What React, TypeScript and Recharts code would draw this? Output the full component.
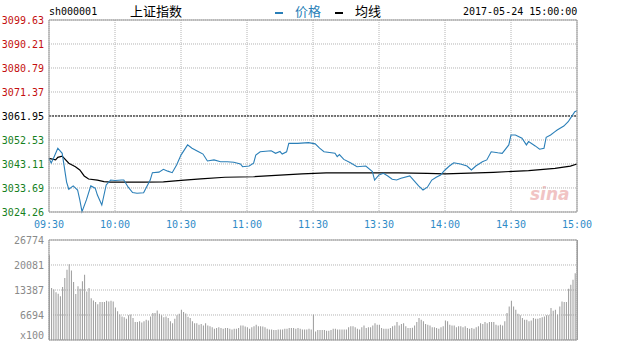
import React from 'react';
import { LineChart, Line, BarChart, Bar, XAxis, YAxis, CartesianGrid, ReferenceLine } from 'recharts';

// minute index from 09:30 (0) to 15:00 (240), lunch break folded at 11:30/13:00 (120)
const priceMinutes = [0, 1, 2, 4, 6, 8, 9, 11, 13, 14, 15, 17, 19, 21, 22, 24, 26, 28, 30, 33, 34, 36, 38, 40, 43, 46, 47, 50, 52, 54, 56, 58, 60, 63, 65, 68, 70, 72, 75, 78, 81, 84, 87, 88, 91, 93, 94, 96, 101, 103, 105, 106, 108, 109, 113, 118, 121, 123, 125, 130, 131, 132, 134, 137, 140, 144, 147, 148, 150, 152, 154, 156, 158, 160, 164, 165, 168, 170, 172, 174, 176, 178, 180, 182, 184, 187, 190, 192, 194, 197, 199, 201, 204, 206, 209, 210, 212, 215, 217, 218, 221, 223, 225, 226, 228, 230, 231, 234, 236, 237, 239, 240];
const priceValues = [3045.3, 3043.5, 3045.3, 3049.3, 3047.3, 3036.0, 3033.2, 3034.5, 3032.9, 3029.0, 3024.4, 3029.0, 3034.5, 3033.6, 3030.9, 3027.0, 3034.9, 3036.8, 3036.6, 3036.8, 3036.8, 3034.0, 3031.9, 3031.6, 3031.8, 3036.8, 3039.7, 3039.9, 3041.0, 3040.3, 3039.7, 3042.7, 3046.6, 3050.6, 3049.3, 3047.9, 3047.0, 3044.3, 3044.7, 3044.0, 3044.0, 3043.8, 3043.1, 3042.05, 3042.3, 3043.4, 3046.6, 3047.9, 3048.3, 3047.3, 3048.0, 3047.0, 3047.9, 3051.2, 3051.2, 3051.5, 3051.0, 3049.3, 3047.9, 3047.3, 3046.0, 3046.8, 3044.9, 3043.6, 3042.05, 3042.3, 3040.1, 3036.8, 3038.8, 3039.45, 3038.4, 3037.1, 3036.8, 3037.5, 3038.4, 3037.5, 3034.5, 3032.9, 3034.0, 3036.8, 3037.9, 3038.8, 3040.75, 3042.3, 3043.6, 3043.1, 3042.3, 3040.75, 3042.3, 3044.0, 3044.7, 3047.9, 3047.5, 3047.3, 3050.6, 3054.5, 3054.5, 3053.2, 3050.6, 3051.9, 3050.2, 3048.9, 3049.3, 3053.6, 3054.5, 3055.8, 3056.45, 3058.0, 3059.7, 3061.0, 3063.6, 3064.0];

const avgMinutes = [0, 3, 4, 6, 9, 12, 14, 16, 18, 22, 25, 28, 43, 52, 60, 69, 80, 93, 105, 115, 126, 159, 172, 180, 202, 218, 230, 237, 240];
const avgValues = [3045.3, 3044.7, 3045.7, 3046.2, 3043.4, 3042.05, 3040.75, 3038.4, 3037.2, 3036.8, 3036.2, 3036.0, 3036.0, 3036.1, 3036.7, 3037.3, 3037.9, 3038.1, 3038.7, 3039.2, 3039.6, 3039.6, 3039.45, 3039.2, 3039.85, 3040.5, 3041.4, 3042.3, 3043.1];

// volume per minute (x100)
const volumes = [
  22700, 13900, 13500, 12800, 12400, 11700, 14200, 16600, 18800, 20300,
  18600, 15500, 12300, 14400, 13700, 15700, 17500, 13000, 13900, 11200,
  10600, 10200, 9600, 10200, 10200, 10200, 10500, 10300, 10500, 10300,
  8700, 7700, 6800, 6300, 6100, 5700, 6600, 6800, 5900, 4800,
  4800, 5000, 4700, 5000, 5400, 5200, 6300, 7200, 7200, 7900,
  7000, 6600, 6100, 6300, 5900, 5000, 4500, 5700, 6600, 7000,
  8100, 7500, 7100, 6200, 5900, 5000, 4500, 4500, 4100, 4300,
  3900, 4500, 3900, 3700, 3400, 3000, 3200, 3400, 3200, 3000,
  3200, 3200, 3000, 2800, 3000, 3000, 3200, 3900, 3900, 3600,
  3400, 3000, 3400, 3700, 4100, 3700, 3700, 3600, 3400, 3000,
  2800, 2800, 2700, 2700, 2800, 2800, 2800, 3000, 3000, 3200,
  3200, 3200, 3000, 3200, 3000, 2800, 2800, 2800, 3000, 2800,
  6800, 2300, 2700, 2700, 2700, 2700, 2500, 2500, 2700, 3000,
  3000, 2800, 2800, 2800, 2800, 2800, 3400, 3700, 3700, 3400,
  3000, 2800, 3400, 3900, 3200, 3400, 3400, 3900, 4500, 4100,
  4100, 3200, 3000, 3000, 3000, 3200, 3700, 3900, 4800, 3900,
  4300, 4500, 3700, 3200, 3200, 3300, 3900, 4800, 5900, 5400,
  5000, 4300, 4100, 3900, 3400, 3400, 3200, 3000, 3400, 3700,
  5200, 5000, 4100, 3900, 3900, 3400, 3700, 3700, 3400, 3700,
  3200, 3000, 3200, 3000, 3400, 3700, 4500, 4300, 4800, 4500,
  4800, 4800, 4800, 4100, 3900, 4100, 3900, 5000, 7200, 9000,
  10500, 9000, 8100, 7000, 6600, 5900, 5400, 5400, 5000, 5200,
  5900, 5700, 5700, 5900, 6100, 6300, 6600, 6600, 8600, 7800,
  8100, 6800, 9000, 10300, 10200, 10200, 13700, 14800, 16100, 17900,
  26774,
];

const timeTicks = [0, 30, 60, 90, 120, 150, 180, 210, 240];
const timeLabels = ['09:30', '10:00', '10:30', '11:00', '11:30', '13:30', '14:00', '14:30', '15:00'];
const priceTicks = [3024.26, 3033.69, 3043.11, 3052.53, 3061.95, 3071.37, 3080.79, 3090.21, 3099.63];
const pctLabels = ['-1.23%', '-0.92%', '-0.62%', '-0.31%', '0.00%', '+0.31%', '+0.62%', '+0.92%', '+1.23%'];
const volTicks = [0, 6694, 13387, 20081, 26774];
const volLabels = ['x100', '6694', '13387', '20081', '26774'];

const PRE_CLOSE = 3061.95;
const MONO = '"DejaVu Sans Mono", monospace';
const CJK = '"Noto Sans CJK SC", sans-serif';
const BLUE = '#2a7fb8';
const RED = '#c40f0f';
const GREEN = '#15801d';
const FRAME = '#999999';
const GRID = '#b4b4b4';

const merged = (() => {
  const map = new Map<number, any>();
  priceMinutes.forEach((t, i) => map.set(t, { ...(map.get(t) || { t }), price: priceValues[i] }));
  avgMinutes.forEach((t, i) => map.set(t, { ...(map.get(t) || { t }), avg: avgValues[i] }));
  return Array.from(map.values()).sort((a, b) => a.t - b.t);
})();

const volData = volumes.map((v, i) => ({ t: i, v }));

const tickColor = (v: number) => (Math.abs(v - PRE_CLOSE) < 0.01 ? '#000' : v > PRE_CLOSE ? RED : GREEN);

const LeftTick = (props: any) => {
  const { y, payload } = props;
  return (
    <text x={44} y={y + 4} textAnchor="end" fontFamily={MONO} fontSize={10} fill={tickColor(payload.value)}>
      {payload.value.toFixed(2)}
    </text>
  );
};

const RightTick = (props: any) => {
  const { y, payload, index } = props;
  return (
    <text x={616} y={y + 4} textAnchor="end" fontFamily={MONO} fontSize={10} fill={tickColor(payload.value)}>
      {pctLabels[index]}
    </text>
  );
};

const VolTick = (props: any) => {
  const { y, payload, index } = props;
  // bottom label sits just above the page edge
  const dy = index === 0 ? -1 : 4;
  return (
    <text x={44} y={y + dy} textAnchor="end" fontFamily={MONO} fontSize={10} fill="#8a8a8a">
      {volLabels[index] ?? payload.value}
    </text>
  );
};

const App = () => (
  <div style={{ position: 'fixed', left: 0, top: 0, width: 619, height: 343, background: '#fff', overflow: 'hidden' }}>
    <div style={{ position: 'absolute', left: 49, top: 6, font: `10px ${MONO}`, color: '#000' }}>sh000001</div>
    <div style={{ position: 'absolute', left: 130, top: 3, font: `13px ${CJK}`, color: '#000', lineHeight: '16px' }}>上证指数</div>
    <div style={{ position: 'absolute', left: 275, top: 12, width: 8, height: 2, background: BLUE }} />
    <div style={{ position: 'absolute', left: 295, top: 3, font: `13px ${CJK}`, color: BLUE, lineHeight: '16px' }}>价格</div>
    <div style={{ position: 'absolute', left: 335, top: 12, width: 8, height: 2, background: '#000' }} />
    <div style={{ position: 'absolute', left: 355, top: 3, font: `13px ${CJK}`, color: '#000', lineHeight: '16px' }}>均线</div>
    <div style={{ position: 'absolute', left: 463, top: 6, font: `10px ${MONO}`, color: '#000' }}>2017-05-24 15:00:00</div>
    <div style={{ position: 'absolute', left: 530, top: 184, font: `italic bold 17px "DejaVu Sans", sans-serif`, color: '#f1c4c4' }}>sina</div>

    <div style={{ position: 'absolute', left: 0, top: 0 }}>
      <LineChart width={619} height={235} data={merged} margin={{ top: 20, right: 0, bottom: 0, left: 0 }}>
        <CartesianGrid stroke={GRID} strokeDasharray="1 1" yAxisId="p" />
        <XAxis
          dataKey="t"
          type="number"
          domain={[0, 240]}
          ticks={timeTicks}
          tickFormatter={(v: number) => timeLabels[timeTicks.indexOf(v)]}
          interval={0}
          height={23}
          tickLine={false}
          axisLine={{ stroke: FRAME }}
          tick={{ fill: '#2f8bc7', fontFamily: MONO, fontSize: 10 }}
          tickMargin={3}
        />
        <YAxis yAxisId="p" domain={[priceTicks[0], priceTicks[8]]} ticks={priceTicks} width={49} tickLine={false} axisLine={{ stroke: FRAME }} tick={<LeftTick />} interval={0} />
        <YAxis yAxisId="r" orientation="right" domain={[priceTicks[0], priceTicks[8]]} ticks={priceTicks} width={42} tickLine={false} axisLine={{ stroke: FRAME }} tick={<RightTick />} interval={0} />
        <ReferenceLine yAxisId="p" y={priceTicks[8]} stroke={FRAME} />
        <ReferenceLine yAxisId="p" y={PRE_CLOSE} stroke="#000" strokeDasharray="2 1" />
        <Line yAxisId="p" dataKey="avg" stroke="#000" strokeWidth={1.2} dot={false} connectNulls isAnimationActive={false} />
        <Line yAxisId="p" dataKey="price" stroke={BLUE} strokeWidth={1.1} dot={false} connectNulls isAnimationActive={false} />
      </LineChart>
    </div>

    <div style={{ position: 'absolute', left: 0, top: 235 }}>
      <BarChart width={619} height={106} data={volData} margin={{ top: 5, right: 42, bottom: 0, left: 0 }}>
        <CartesianGrid stroke={GRID} strokeDasharray="1 1" />
        <XAxis dataKey="t" type="number" domain={[0, 240]} ticks={timeTicks} interval={0} height={1} tick={false} tickLine={false} axisLine={{ stroke: FRAME }} />
        <YAxis domain={[0, 26774]} ticks={volTicks} width={49} tickLine={false} axisLine={{ stroke: FRAME }} tick={<VolTick />} interval={0} />
        <ReferenceLine y={26774} stroke={FRAME} />
        <ReferenceLine x={240} stroke={FRAME} />
        <Bar dataKey="v" fill="#9a9a9a" barSize={1} isAnimationActive={false} />
      </BarChart>
    </div>
  </div>
);

export default App;
